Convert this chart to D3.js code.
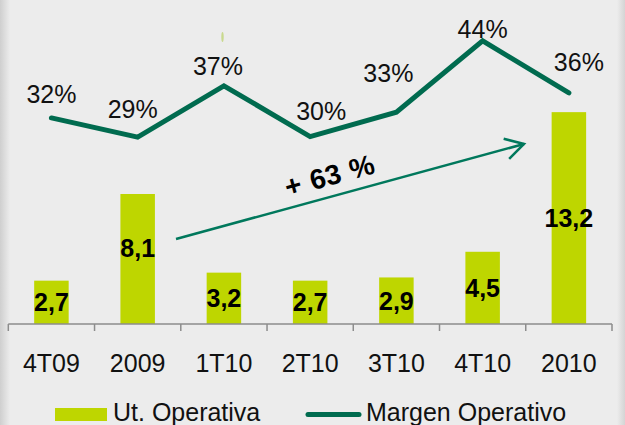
<!DOCTYPE html>
<html>
<head>
<meta charset="utf-8">
<script src="https://cdn.jsdelivr.net/npm/d3@7"></script>
<style>
  html, body { margin: 0; padding: 0; background: #ececec; }
  svg { display: block; font-family: "Liberation Sans", Arial, sans-serif; }
</style>
</head>
<body>
<svg width="625" height="425"></svg>
<script>
// data
var periods = ["4T09", "2009", "1T10", "2T10", "3T10", "4T10", "2010"];
var utOperativa = [2.7, 8.1, 3.2, 2.7, 2.9, 4.5, 13.2];
var utLabels = ["2,7", "8,1", "3,2", "2,7", "2,9", "4,5", "13,2"];
// line positions as plotted (labels are the rounded values)
var margenOperativo = [32.1, 29.1, 37.1, 29.2, 33.0, 44.1, 36.0];
var margenLabels = ["32%", "29%", "37%", "30%", "33%", "44%", "36%"];
var growthLabel = "+ 63 %";

// manual label nudges (layout only), [dx, dy] from the line point
var marginNudge = [[0, -15], [-5, -19], [-6, -11], [11, -17], [-8, -30], [0, -3], [10, -22]];
var barNudge = [0, -11, 0, 0, 0, 0, 0];

function drawChart() {
    var svg = d3.select("svg"),
        width = +svg.attr("width"),
        height = +svg.attr("height");

    var green = "#bed600",
        dark = "#006b4f",
        arrowCol = "#00785c";

    // background + soft side shadows
    var defs = svg.append("defs");
    var gl = defs.append("linearGradient").attr("id", "shL");
    gl.append("stop").attr("offset", "0%").attr("stop-color", "#cfcfcf");
    gl.append("stop").attr("offset", "100%").attr("stop-color", "#ececec");
    var gr = defs.append("linearGradient").attr("id", "shR");
    gr.append("stop").attr("offset", "0%").attr("stop-color", "#ececec");
    gr.append("stop").attr("offset", "100%").attr("stop-color", "#d4d4d4");

    svg.append("rect").attr("width", width).attr("height", height).attr("fill", "#ececec");
    svg.append("rect").attr("x", 0).attr("width", 10).attr("height", height).attr("fill", "url(#shL)");
    svg.append("rect").attr("x", 617).attr("width", 8).attr("height", height).attr("fill", "url(#shR)");

    var x = d3.scaleBand()
        .domain(periods)
        .range([8.3, 612])
        .paddingInner(0.6)
        .paddingOuter(0.3);

    var xEdge = d3.scaleBand().domain(periods).range([8.3, 612]);

    var y = d3.scaleLinear().domain([0, 20]).range([324, 3]);
    var y2 = d3.scaleLinear().domain([0, 50]).range([324, 3]);

    var cx = function (i) { return xEdge(periods[i]) + xEdge.bandwidth() / 2; };

    // bars
    svg.append("g")
        .selectAll("rect")
        .data(utOperativa)
        .enter().append("rect")
        .attr("x", function (d, i) { return x(periods[i]); })
        .attr("width", x.bandwidth())
        .attr("y", function (d) { return y(d); })
        .attr("height", function (d) { return y(0) - y(d); })
        .attr("fill", green);

    // bar value labels
    svg.append("g")
        .selectAll("text")
        .data(utOperativa)
        .enter().append("text")
        .attr("x", function (d, i) { return cx(i); })
        .attr("y", function (d, i) { return (y(d) + y(0)) / 2 + 9 + barNudge[i]; })
        .attr("text-anchor", "middle")
        .attr("font-size", 25)
        .attr("font-weight", "bold")
        .attr("fill", "#000")
        .text(function (d, i) { return utLabels[i]; });

    // x axis
    var axis = svg.append("g").attr("transform", "translate(0,324)");
    axis.append("line")
        .attr("x1", 8.3).attr("x2", 612)
        .attr("stroke", "#8c8c8c").attr("stroke-width", 1.5);
    var edges = periods.map(function (p) { return xEdge(p); }).concat([612]);
    axis.selectAll("line.tick")
        .data(edges)
        .enter().append("line")
        .attr("class", "tick")
        .attr("x1", function (d) { return d; })
        .attr("x2", function (d) { return d; })
        .attr("y1", 0).attr("y2", 7)
        .attr("stroke", "#8c8c8c").attr("stroke-width", 1.5);

    svg.append("g")
        .selectAll("text")
        .data(periods)
        .enter().append("text")
        .attr("x", function (d, i) { return cx(i); })
        .attr("y", 372)
        .attr("text-anchor", "middle")
        .attr("font-size", 25)
        .attr("fill", "#111")
        .text(function (d) { return d; });

    // margin line
    var line = d3.line()
        .x(function (d, i) { return cx(i); })
        .y(function (d) { return y2(d); });

    svg.append("path")
        .datum(margenOperativo)
        .attr("d", line)
        .attr("fill", "none")
        .attr("stroke", dark)
        .attr("stroke-width", 5)
        .attr("stroke-linecap", "round")
        .attr("stroke-linejoin", "miter");

    svg.append("g")
        .selectAll("text")
        .data(margenOperativo)
        .enter().append("text")
        .attr("x", function (d, i) { return cx(i) + marginNudge[i][0]; })
        .attr("y", function (d, i) { return y2(d) + marginNudge[i][1]; })
        .attr("text-anchor", "middle")
        .attr("font-size", 25)
        .attr("fill", "#111")
        .text(function (d, i) { return margenLabels[i]; });

    // growth arrow 2009 -> 2010
    var x0 = 176, y0 = 239, x1 = 524, y1 = 144;
    var ang = Math.atan2(y1 - y0, x1 - x0);
    svg.append("line")
        .attr("x1", x0).attr("y1", y0).attr("x2", x1).attr("y2", y1)
        .attr("stroke", arrowCol).attr("stroke-width", 2.5);
    var head = 21, spread = 0.52;
    svg.append("path")
        .attr("d", "M" + (x1 - head * Math.cos(ang - spread)) + "," + (y1 - head * Math.sin(ang - spread)) +
            "L" + x1 + "," + y1 +
            "L" + (x1 - head * Math.cos(ang + spread)) + "," + (y1 - head * Math.sin(ang + spread)))
        .attr("fill", "none")
        .attr("stroke", arrowCol)
        .attr("stroke-width", 2.5);

    svg.append("text")
        .attr("transform", "translate(332,185) rotate(" + (ang * 180 / Math.PI) + ")")
        .attr("text-anchor", "middle")
        .attr("font-size", 28)
        .attr("font-weight", "bold")
        .attr("word-spacing", 2)
        .attr("fill", "#000")
        .text(growthLabel);

    // small stray mark near top
    svg.append("ellipse")
        .attr("cx", 222.5).attr("cy", 37).attr("rx", 1.2).attr("ry", 5)
        .attr("fill", "#c9d98e");

    // legend
    var legend = svg.append("g");
    legend.append("rect")
        .attr("x", 55).attr("y", 408).attr("width", 52).attr("height", 13)
        .attr("fill", green);
    legend.append("text")
        .attr("x", 113).attr("y", 421)
        .attr("font-size", 25).attr("fill", "#111")
        .text("Ut. Operativa");
    legend.append("line")
        .attr("x1", 308).attr("x2", 359).attr("y1", 414.5).attr("y2", 414.5)
        .attr("stroke", dark).attr("stroke-width", 5)
        .attr("stroke-linecap", "round");
    legend.append("text")
        .attr("x", 366).attr("y", 421)
        .attr("font-size", 25).attr("fill", "#111")
        .text("Margen Operativo");
}

drawChart();
</script>
</body>
</html>
